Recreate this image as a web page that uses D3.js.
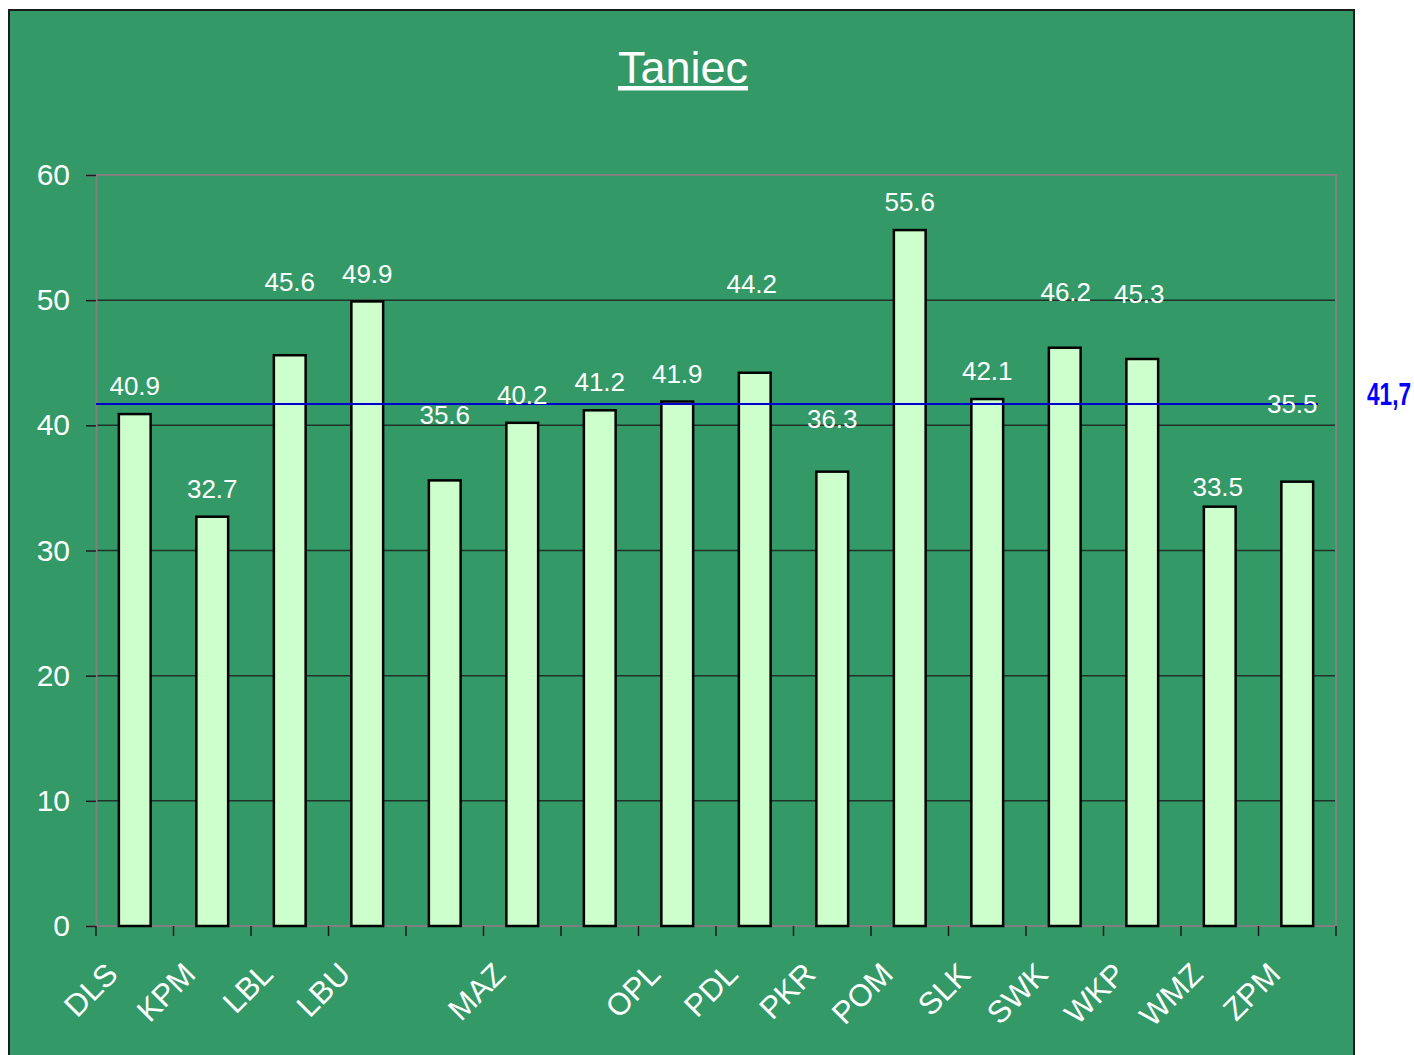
<!DOCTYPE html>
<html lang="pl">
<head>
<meta charset="UTF-8">
<title>Taniec</title>
<script src="https://d3js.org/d3.v7.min.js"></script>
<style>
  body { margin: 0; background: #fff; overflow: hidden; }
  text { font-family: Arial, "Liberation Sans", sans-serif; fill: #fff; }
</style>
</head>
<body>
<script>
// data
const categories = ["DLS", "KPM", "LBL", "LBU", "", "MAZ", "", "OPL", "PDL", "PKR", "POM", "SLK", "SWK", "WKP", "WMZ", "ZPM"];
const values = [40.9, 32.7, 45.6, 49.9, 35.6, 40.2, 41.2, 41.9, 44.2, 36.3, 55.6, 42.1, 46.2, 45.3, 33.5, 35.5];
const average = 41.7;
const averageLabel = "41,7";
const yTicks = [0, 10, 20, 30, 40, 50, 60];

// where the value labels sit above each bar (px), as in the original
const labelLift = [19, 19, 64, 18, 56, 19, 19, 19, 80, 44, 19, 19, 47, 56, 11, 69];
const labelShift = [0, 0, 0, 0, 0, 0, 0, 0, -3, 0, 0, 0, 1, -3, -2, -5];

const W = 1414, H = 1055;
const plot = { left: 96, right: 1336, top: 175, bottom: 926 };

const svg = d3.select("body").append("svg")
    .attr("width", W)
    .attr("height", H);

// green panel
svg.append("rect")
    .attr("x", 9).attr("y", 10)
    .attr("width", 1345).attr("height", H)
    .attr("fill", "#339966")
    .attr("stroke", "#1c1c1c")
    .attr("stroke-width", 2);

// title
svg.append("text")
    .attr("x", 683).attr("y", 83)
    .attr("text-anchor", "middle")
    .style("font-size", "45px")
    .style("text-decoration", "underline")
    .text("Taniec");

const x = d3.scaleBand()
    .domain(d3.range(values.length))
    .range([plot.left, plot.right]);

const y = d3.scaleLinear()
    .domain([0, 60])
    .range([plot.bottom, plot.top]);

// grid lines
svg.append("g")
    .selectAll("line")
    .data(yTicks.slice(1, -1))
    .join("line")
    .attr("x1", plot.left).attr("x2", plot.right)
    .attr("y1", d => y(d)).attr("y2", d => y(d))
    .attr("stroke", "#1f3327")
    .attr("stroke-width", 1.5);

// plot frame (top, right)
svg.append("path")
    .attr("d", `M${plot.left},${plot.top}H${plot.right}V${plot.bottom}`)
    .attr("fill", "none")
    .attr("stroke", "#808080")
    .attr("stroke-width", 2);

// y axis
const yAxis = svg.append("g")
    .attr("transform", `translate(${plot.left},0)`)
    .call(d3.axisLeft(y).tickValues(yTicks).tickSize(10).tickPadding(16));
yAxis.select(".domain").attr("stroke", "#808080").attr("stroke-width", 2);
yAxis.selectAll(".tick line").attr("stroke", "#1c1c1c").attr("stroke-width", 1.5);
yAxis.selectAll(".tick text")
    .attr("fill", "#fff")
    .style("font-size", "30px")
    .style("font-family", "Arial, 'Liberation Sans', sans-serif");

// x axis ticks on band boundaries
const xg = svg.append("g");
xg.append("line")
    .attr("x1", plot.left).attr("x2", plot.right)
    .attr("y1", plot.bottom).attr("y2", plot.bottom)
    .attr("stroke", "#808080").attr("stroke-width", 2);
xg.selectAll("line.tk")
    .data(d3.range(values.length + 1))
    .join("line")
    .attr("class", "tk")
    .attr("x1", i => plot.left + i * x.step())
    .attr("x2", i => plot.left + i * x.step())
    .attr("y1", plot.bottom).attr("y2", plot.bottom + 10)
    .attr("stroke", "#1c1c1c").attr("stroke-width", 1.5);

// category labels, rotated
xg.selectAll("text")
    .data(categories)
    .join("text")
    .attr("transform", (d, i) => `translate(${x(i) + x.step() / 2 - 15},${plot.bottom + 50}) rotate(-45)`)
    .attr("text-anchor", "end")
    .style("font-size", "31px")
    .text(d => d);

// bars
const bw = x.step() * 0.41;
svg.append("g")
    .selectAll("rect")
    .data(values)
    .join("rect")
    .attr("x", (d, i) => x(i) + x.step() / 2 - bw / 2)
    .attr("y", d => y(d))
    .attr("width", bw)
    .attr("height", d => y(0) - y(d))
    .attr("fill", "#ccffcc")
    .attr("stroke", "#000")
    .attr("stroke-width", 2.5);

// average line
svg.append("line")
    .attr("x1", plot.left).attr("x2", 1318)
    .attr("y1", y(average)).attr("y2", y(average))
    .attr("stroke", "#0000cc")
    .attr("stroke-width", 2);

// value labels
svg.append("g")
    .selectAll("text")
    .data(values)
    .join("text")
    .attr("x", (d, i) => x(i) + x.step() / 2 + labelShift[i])
    .attr("y", (d, i) => y(d) - labelLift[i])
    .attr("text-anchor", "middle")
    .style("font-size", "26px")
    .text(d => d.toFixed(1));

// average value outside the panel
svg.append("text")
    .attr("x", 1367).attr("y", y(average) + 1)
    .attr("textLength", 44)
    .attr("lengthAdjust", "spacingAndGlyphs")
    .style("font-weight", "bold")
    .style("font-size", "31px")
    .style("fill", "#0000ff")
    .text(averageLabel);
</script>
</body>
</html>
